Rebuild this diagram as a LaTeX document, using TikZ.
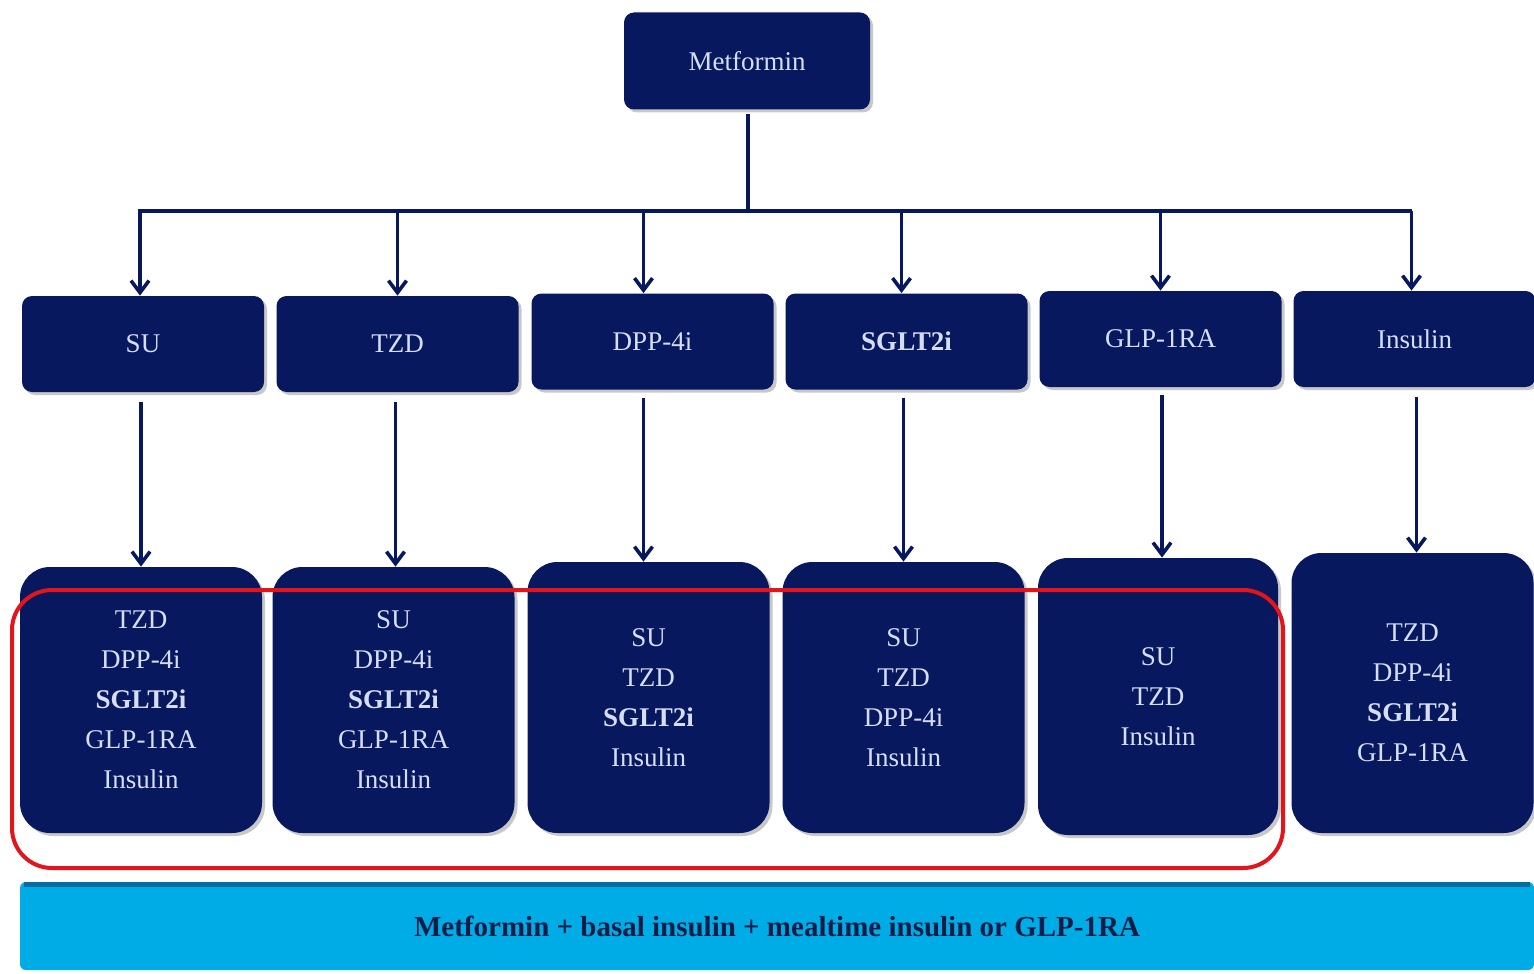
\documentclass[tikz,border=0pt]{standalone}
\usepackage{fontspec}
\setmainfont{Liberation Serif}
\usetikzlibrary{arrows.meta,shadows}
\definecolor{navy}{RGB}{8,24,94}
\definecolor{txt}{RGB}{214,222,246}
\definecolor{redline}{RGB}{226,20,28}
\definecolor{cyanbar}{RGB}{0,172,230}
\definecolor{baredge}{RGB}{0,110,160}
\definecolor{bartxt}{RGB}{14,30,72}
\begin{document}
\begin{tikzpicture}[x=0.5pt,y=-0.5pt,
  box/.style={fill=navy, text=txt, rounded corners=5pt, minimum width=121pt,
    minimum height=48pt, inner sep=0pt, font=\fontsize{13.5}{16}\selectfont,
    drop shadow={shadow xshift=1.5pt,shadow yshift=-1.5pt,opacity=0.3,fill=black!70}},
  bigbox/.style={box, rounded corners=15pt, align=center,
    font=\fontsize{13.5}{20}\selectfont},
  conn/.style={draw=navy, line width=1.8pt},
  arr/.style={conn, -{Straight Barb[length=6pt,width=9pt]}},
  frame/.style={draw=redline, line width=2pt, rounded corners=20pt}]
\useasboundingbox (0,0) rectangle (1534,973);
\fill[white] (0,0) rectangle (1534,973);

% top
\node[box, minimum width=123pt, minimum height=48.5pt] (met) at (747,61) {Metformin};

% level 2
\node[box] (su)   at (143,344)    {SU};
\node[box] (tzd)  at (397.5,344)  {TZD};
\node[box] (dpp)  at (652.5,341.5) {DPP-4i};
\node[box] (sglt) at (906.5,341.5) {\textbf{SGLT2i}};
\node[box] (glp)  at (1160.5,339) {GLP-1RA};
\node[box] (ins)  at (1414.5,339) {Insulin};

% level 3
\node[bigbox, minimum height=133pt] (b1) at (141,700)
  {TZD\\DPP-4i\\\textbf{SGLT2i}\\GLP-1RA\\Insulin};
\node[bigbox, minimum height=133pt] (b2) at (393.5,700)
  {SU\\DPP-4i\\\textbf{SGLT2i}\\GLP-1RA\\Insulin};
\node[bigbox, minimum height=135.5pt] (b3) at (648.5,697.5)
  {SU\\TZD\\\textbf{SGLT2i}\\Insulin};
\node[bigbox, minimum height=135.5pt] (b4) at (903.5,697.5)
  {SU\\TZD\\DPP-4i\\Insulin};
\node[bigbox, minimum width=120pt, minimum height=138.5pt] (b5) at (1158,696.5)
  {SU\\TZD\\Insulin};
\node[bigbox, minimum height=140pt] (b6) at (1412.5,693)
  {TZD\\DPP-4i\\\textbf{SGLT2i}\\GLP-1RA};

% bottom bar
\node[fill=cyanbar, minimum width=757pt, minimum height=44pt, inner sep=0pt,
  rounded corners=3pt, text=bartxt, font=\bfseries\fontsize{14.5}{17}\selectfont]
  (bar) at (777,926) {Metformin + basal insulin + mealtime insulin or GLP-1RA};
\draw[baredge, line width=2.5pt] ([xshift=2pt,yshift=-1.5pt]bar.north west) -- ([xshift=-2pt,yshift=-1.5pt]bar.north east);

% connectors
\coordinate (bus) at (748,211);
\draw[conn] ([yshift=-2pt]met.south -| bus) -- (bus);
\draw[conn] ([xshift=-2.5pt]bus -| su.north) -- ([xshift=-1.5pt]bus -| ins.north);
\draw[arr] ([xshift=-1.5pt]bus -| su.north) -- ([xshift=-1.5pt]su.north);
\draw[arr] (bus -| tzd.north) -- (tzd.north);
\draw[arr] ([xshift=-4.5pt]bus -| dpp.north) -- ([xshift=-4.5pt]dpp.north);
\draw[arr] ([xshift=-2.5pt]bus -| sglt.north) -- ([xshift=-2.5pt]sglt.north);
\draw[arr] (bus -| glp.north) -- (glp.north);
\draw[arr] ([xshift=-1.5pt]bus -| ins.north) -- ([xshift=-1.5pt]ins.north);

\draw[arr, shorten <=5pt] (b1.north |- su.south) -- (b1.north);
\draw[arr, shorten <=5pt] ([xshift=1pt]b2.north |- tzd.south) -- ([xshift=1pt]b2.north);
\draw[arr, shorten <=4pt] ([xshift=-2.5pt]b3.north |- dpp.south) -- ([xshift=-2.5pt]b3.north);
\draw[arr, shorten <=4pt] (b4.north |- sglt.south) -- (b4.north);
\draw[arr, shorten <=4pt] ([xshift=2pt]b5.north |- glp.south) -- ([xshift=2pt]b5.north);
\draw[arr, shorten <=5pt] ([xshift=2pt]b6.north |- ins.south) -- ([xshift=2pt]b6.north);

% red grouping frame
\draw[frame] (12,590) rectangle (1283,868);
\end{tikzpicture}
\end{document}
